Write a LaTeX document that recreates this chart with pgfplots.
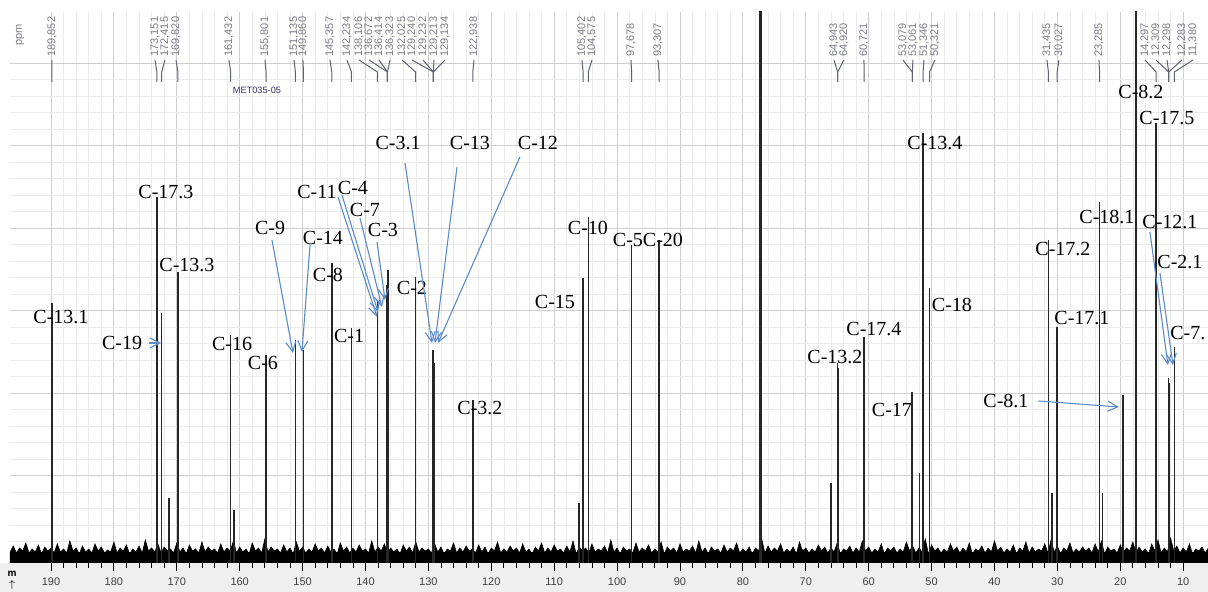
\documentclass[border=0pt]{standalone}
\usepackage{fontspec}
\setmainfont{Liberation Serif}
\newfontfamily\sansf{Liberation Sans}
\usepackage{pgfplots}
\pgfplotsset{compat=1.18}
\usetikzlibrary{arrows.meta}
\definecolor{ppmtxt}{HTML}{7C7C88}
\definecolor{conn}{HTML}{5E6272}
\definecolor{arr}{HTML}{5B8BC9}
\definecolor{strip}{HTML}{EFEFEF}
% peak label on top: text position, peak position, text
\newcommand{\pl}[3]{%
  \node[rotate=90,anchor=west,font=\sansf\fontsize{5.5}{6}\selectfont,text=ppmtxt,inner sep=0pt] at (axis cs:#1,506) {#3};
  \draw[conn,line width=0.5pt] (axis cs:#1,503) -- (axis cs:#2,491) -- (axis cs:#2,481);}
\newcommand{\cl}[3]{\node[font=\fontsize{10}{12}\selectfont,inner sep=0pt] at (axis cs:#1,#2) {#3};}
\newcommand{\ar}[4]{\draw[arr,line width=0.55pt,-{Straight Barb[length=5pt,width=5pt]}] (axis cs:#1,#2) -- (axis cs:#3,#4);}
\begin{document}
\begin{tikzpicture}
\fill[strip] (-5pt,-14.5pt) rectangle (599pt,0pt);
\useasboundingbox (-5pt,-14.5pt) rectangle (599pt,281.5pt);
\begin{axis}[at={(0,0)}, anchor=south west, scale only axis,
  width=599pt, height=275.5pt,
  x dir=reverse, xmin=6.05, xmax=196.52, ymin=0, ymax=551,
  xtick={10,20,...,190}, minor x tick num=4,
  ytick={5,87.5,170,252.5,335,417.5,500}, minor y tick num=4,
  yticklabels={}, y tick style={draw=none}, minor y tick style={draw=none},
  grid=both, major grid style={black!19, line width=0.4pt},
  minor grid style={black!8, line width=0.3pt},
  axis line style={draw=none},
  xtick pos=bottom, tick align=outside,
  major tick length=4pt, minor tick length=2.5pt,
  x tick style={black, line width=0.4pt},
  /pgf/number format/assume math mode=true,
  xticklabel style={font=\sansf\fontsize{5.5}{6}\selectfont, text=black!75},
]
% solid part of the baseline noise
\addplot[fill=black, draw=none] coordinates {(196.52,11) (6.05,11)} \closedcycle;
% noise spikes
\addplot[fill=black, draw=black, line width=0.3pt] coordinates {
(196.5,11) (196,17) (195.5,10) (195,15) (194.5,12) (194,20) (193.5,10) (193,14) (192.5,11) (192,18)
(191.5,9) (191,16) (190.5,12) (190,15) (189.5,10) (189,19) (188.5,11) (188,14) (187.5,10) (187,22)
(186.5,12) (186,15) (185.5,9) (185,17) (184.5,11) (184,14) (183.5,10) (183,19) (182.5,12) (182,16)
(181.5,10) (181,13) (180.5,11) (180,21) (179.5,10) (179,15) (178.5,12) (178,18) (177.5,9) (177,14)
(176.5,11) (176,17) (175.5,10) (175,23) (174.5,12) (174,15) (173.5,11) (173,19) (172.5,10) (172,16)
(171.5,12) (171,14) (170.5,10) (170,20) (169.5,11) (169,15) (168.5,9) (168,18) (167.5,12) (167,14)
(166.5,10) (166,21) (165.5,11) (165,16) (164.5,12) (164,14) (163.5,10) (163,19) (162.5,11) (162,15)
(161.5,12) (161,22) (160.5,10) (160,16) (159.5,11) (159,14) (158.5,9) (158,20) (157.5,12) (157,15)
(156.5,10) (156,24) (155.5,11) (155,16) (154.5,12) (154,14) (153.5,10) (153,18) (152.5,11) (152,15)
(151.5,9) (151,21) (150.5,12) (150,16) (149.5,10) (149,14) (148.5,11) (148,19) (147.5,12) (147,15)
(146.5,10) (146,17) (145.5,11) (145,14) (144.5,9) (144,20) (143.5,12) (143,16) (142.5,10) (142,15)
(141.5,11) (141,18) (140.5,12) (140,14) (139.5,10) (139,22) (138.5,11) (138,16) (137.5,12) (137,19)
(136.5,10) (136,15) (135.5,11) (135,14) (134.5,9) (134,18) (133.5,12) (133,16) (132.5,10) (132,21)
(131.5,11) (131,15) (130.5,12) (130,14) (129.5,10) (129,19) (128.5,11) (128,16) (127.5,9) (127,14)
(126.5,12) (126,20) (125.5,10) (125,15) (124.5,11) (124,17) (123.5,12) (123,14) (122.5,10) (122,18)
(121.5,11) (121,16) (120.5,9) (120,15) (119.5,12) (119,21) (118.5,10) (118,14) (117.5,11) (117,17)
(116.5,12) (116,15) (115.5,10) (115,19) (114.5,11) (114,14) (113.5,9) (113,16) (112.5,12) (112,20)
(111.5,10) (111,15) (110.5,11) (110,18) (109.5,12) (109,14) (108.5,10) (108,17) (107.5,11) (107,22)
(106.5,9) (106,16) (105.5,12) (105,15) (104.5,10) (104,19) (103.5,11) (103,14) (102.5,12) (102,17)
(101.5,10) (101,23) (100.5,11) (100,15) (99.5,9) (99,16) (98.5,12) (98,14) (97.5,10) (97,20)
(96.5,11) (96,15) (95.5,12) (95,18) (94.5,10) (94,14) (93.5,11) (93,21) (92.5,9) (92,16)
(91.5,12) (91,15) (90.5,10) (90,19) (89.5,11) (89,14) (88.5,12) (88,17) (87.5,10) (87,22)
(86.5,11) (86,15) (85.5,9) (85,16) (84.5,12) (84,14) (83.5,10) (83,18) (82.5,11) (82,15)
(81.5,12) (81,20) (80.5,10) (80,14) (79.5,11) (79,16) (78.5,9) (78,15) (77.5,12) (77,24)
(76.5,10) (76,17) (75.5,11) (75,15) (74.5,12) (74,19) (73.5,10) (73,14) (72.5,11) (72,16)
(71.5,9) (71,21) (70.5,12) (70,15) (69.5,10) (69,14) (68.5,11) (68,18) (67.5,12) (67,16)
(66.5,10) (66,15) (65.5,11) (65,20) (64.5,9) (64,14) (63.5,12) (63,17) (62.5,10) (62,15)
(61.5,11) (61,22) (60.5,12) (60,16) (59.5,10) (59,14) (58.5,11) (58,19) (57.5,9) (57,15)
(56.5,12) (56,16) (55.5,10) (55,14) (54.5,11) (54,21) (53.5,12) (53,17) (52.5,10) (52,15)
(51.5,11) (51,24) (50.5,9) (50,18) (49.5,12) (49,15) (48.5,10) (48,14) (47.5,11) (47,19)
(46.5,12) (46,16) (45.5,10) (45,15) (44.5,11) (44,20) (43.5,9) (43,14) (42.5,12) (42,17)
(41.5,10) (41,15) (40.5,11) (40,22) (39.5,12) (39,16) (38.5,10) (38,14) (37.5,11) (37,18)
(36.5,9) (36,15) (35.5,12) (35,21) (34.5,10) (34,16) (33.5,11) (33,14) (32.5,12) (32,19)
(31.5,10) (31,23) (30.5,11) (30,17) (29.5,9) (29,15) (28.5,12) (28,20) (27.5,10) (27,14)
(26.5,11) (26,16) (25.5,12) (25,15) (24.5,10) (24,19) (23.5,11) (23,22) (22.5,9) (22,16)
(21.5,12) (21,14) (20.5,10) (20,18) (19.5,11) (19,15) (18.5,12) (18,21) (17.5,10) (17,16)
(16.5,11) (16,14) (15.5,9) (15,19) (14.5,12) (14,23) (13.5,10) (13,15) (12.5,11) (12,25)
(11.5,12) (11,17) (10.5,10) (10,15) (9.5,11) (9,19) (8.5,9) (8,14) (7.5,12) (7,16)
(6.5,10) (6,15)
} \closedcycle;
% peaks
\addplot[ycomb, black!85, line width=0.8pt, mark=none] coordinates {
(189.852,260) (173.151,366) (172.415,250) (171.2,65) (169.820,291)
(161.432,228) (160.9,53) (155.801,208) (151.135,223) (149.860,213)
(145.357,300) (142.234,235) (138.106,263) (136.672,278) (136.414,293)
(136.323,253) (132.025,286) (129.240,213) (129.232,210) (129.213,205)
(129.134,200) (122.938,163) (106.1,60) (105.402,285) (104.575,346)
(97.678,318) (93.307,323) (66.0,80) (64.943,200) (64.920,195)
(60.721,226) (53.079,171) (53.061,165) (51.9,90) (51.346,430)
(50.321,275) (31.435,323) (30.9,70) (30.027,236) (23.285,361)
(22.8,70) (19.6,168) (17.5,600) (14.297,440) (12.309,185)
(12.298,180) (12.283,175) (11.380,216)
};
% solvent
\addplot[ycomb, black!85, line width=1.5pt, mark=none] coordinates {(77.16,600)};
% top peak list
\pl{189.84}{189.852}{189,852}
\pl{173.47}{173.151}{173,151}
\pl{171.88}{172.415}{172,415}
\pl{170.13}{169.820}{169,820}
\pl{161.70}{161.432}{161,432}
\pl{155.98}{155.801}{155,801}
\pl{151.37}{151.135}{151,135}
\pl{149.94}{149.860}{149,860}
\pl{145.64}{145.357}{145,357}
\pl{142.94}{142.234}{142,234}
\pl{141.03}{138.106}{138,106}
\pl{139.44}{136.5}{136,672}
\pl{137.85}{136.5}{136,414}
\pl{136.10}{136.5}{136,323}
\pl{134.20}{132.025}{132,025}
\pl{132.61}{129.2}{129,240}
\pl{130.86}{129.2}{129,232}
\pl{129.11}{129.2}{129,213}
\pl{127.36}{129.2}{129,134}
\pl{122.75}{122.938}{122,938}
\pl{105.58}{105.402}{105,402}
\pl{103.99}{104.575}{104,575}
\pl{97.79}{97.678}{97,678}
\pl{93.50}{93.307}{93,307}
\pl{65.52}{64.93}{64,943}
\pl{63.93}{64.93}{64,920}
\pl{60.75}{60.721}{60,721}
\pl{54.55}{53.07}{53,079}
\pl{52.96}{53.07}{53,061}
\pl{51.21}{51.346}{51,346}
\pl{49.46}{50.321}{50,321}
\pl{31.65}{31.435}{31,435}
\pl{29.75}{30.027}{30,027}
\pl{23.39}{23.285}{23,285}
\pl{16.07}{14.297}{14,297}
\pl{14.32}{12.3}{12,309}
\pl{12.57}{12.3}{12,298}
\pl{10.19}{12.3}{12,283}
\pl{8.44}{11.380}{11,380}
\node[rotate=90,font=\sansf\fontsize{5.5}{6}\selectfont,text=ppmtxt,inner sep=0pt] at (axis cs:194.93,528) {ppm};
\node[font=\sansf\fontsize{4.6}{5}\selectfont,text=black!60!blue!60!gray,inner sep=0pt] at (axis cs:157.25,473) {MET035-05};
% assignments
\cl{188.41}{246}{C-13.1}
\cl{178.71}{220}{C-19}
\ar{174.4}{220}{172.5}{220}
\cl{171.72}{371}{C-17.3}
\cl{168.38}{298}{C-13.3}
\cl{161.22}{219}{C-16}
\cl{156.30}{200}{C-6}
\cl{155.18}{335}{C-9}
\ar{154.87}{323}{151.53}{210}
\cl{146.76}{325}{C-14}
\ar{148.82}{318}{150.10}{211}
\cl{145.96}{288}{C-8}
\cl{147.71}{371}{C-11}
\ar{144.37}{366}{138.17}{246}
\cl{141.99}{375}{C-4}
\ar{143.74}{368}{138.01}{251}
\cl{140.08}{353}{C-7}
\ar{140.87}{345}{137.38}{256}
\cl{137.22}{333}{C-3}
\ar{138.17}{321}{136.90}{263}
\cl{142.62}{227}{C-1}
\cl{132.61}{275}{C-2}
\cl{134.83}{420}{C-3.1}
\ar{133.72}{400}{129.43}{220}
\cl{123.39}{420}{C-13}
\ar{125.45}{396}{128.95}{220}
\cl{112.58}{420}{C-12}
\ar{115.44}{406}{128.47}{220}
\cl{121.80}{155}{C-3.2}
\cl{109.87}{261}{C-15}
\cl{104.63}{335}{C-10}
\cl{98.27}{323}{C-5}
\cl{92.70}{323}{C-20}
\cl{65.36}{206}{C-13.2}
\cl{59.16}{234}{C-17.4}
\cl{56.30}{153}{C-17}
\cl{49.46}{420}{C-13.4}
\cl{46.76}{258}{C-18}
\cl{38.17}{162}{C-8.1}
\ar{33.0}{162}{20.2}{156}
\cl{29.11}{314}{C-17.2}
\cl{26.09}{245}{C-17.1}
\cl{22.11}{346}{C-18.1}
\cl{16.71}{471}{C-8.2}
\cl{12.58}{445}{C-17.5}
\cl{12.10}{341}{C-12.1}
\ar{15.28}{331}{12.42}{198}
\cl{10.51}{301}{C-2.1}
\ar{13.69}{290}{11.62}{198}
\node[font=\fontsize{10}{12}\selectfont,inner sep=0pt,anchor=west] at (axis cs:12.10,230) {C-7.};
\end{axis}
\node[font=\sansf\bfseries\fontsize{5}{6}\selectfont,inner sep=0pt] at (1pt,-5.5pt) {m};
\node[font=\fontsize{5}{6}\selectfont,inner sep=0pt] at (1pt,-11pt) {$\uparrow$};
\end{tikzpicture}
\end{document}
